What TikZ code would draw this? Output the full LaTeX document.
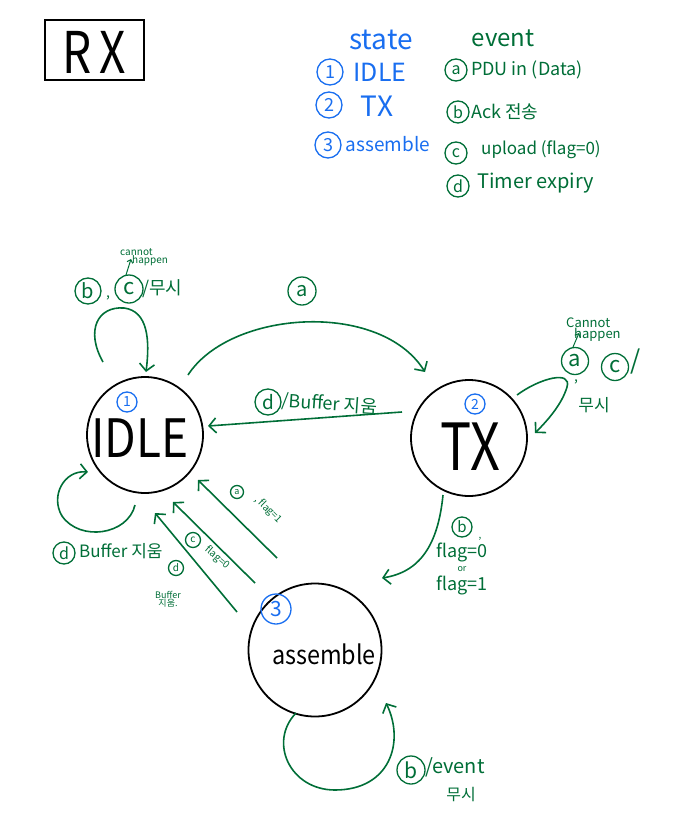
\documentclass[tikz,border=0pt]{standalone}
\usepackage{fontspec}
\setmainfont{Noto Sans CJK KR}
\usetikzlibrary{arrows.meta}
\definecolor{grn}{RGB}{0,110,55}
\definecolor{blu}{RGB}{25,110,240}
\newcommand{\fs}[1]{\fontsize{#1}{#1}\selectfont}
\tikzset{
  stc/.style={circle,draw=black,line width=1.8pt,minimum size=#1,inner sep=0pt},
  evc/.style={circle,draw=grn,text=grn,line width=1.3pt,inner sep=0pt,minimum size=#1},
  bnum/.style={circle,draw=blu,text=blu,line width=1.3pt,inner sep=0pt,minimum size=#1},
  gl/.style={text=grn,inner sep=0pt},
  bl/.style={text=blu,inner sep=0pt},
  conn/.style={draw=grn,line width=1.6pt,-{Straight Barb[length=7pt,width=15pt]}},
  thin conn/.style={draw=grn,line width=1pt,-{Straight Barb[length=3pt,width=6pt]}}
}
\begin{document}
\begin{tikzpicture}[x=1pt,y=-1pt]
\useasboundingbox (0,0) rectangle (673,830);
% title box
\node[draw=black,line width=1.2pt,minimum width=99pt,minimum height=60pt,inner sep=0pt] (rx) at (94.5,50) {};
\node[inner sep=0pt,yscale=1.25,font=\fs{46}] (rxt) at (94,52) {R\,X};
% legend: states
\node[bl,font=\fs{28}] (lstate) at (381,40) {state};
\node[bnum=26pt,font=\fs{18}] (l1) at (330,72) {1};
\node[bl,font=\fs{25}] (l1t) at (380,72) {IDLE};
\node[bnum=26pt,font=\fs{18}] (l2) at (329,105) {2};
\node[bl,font=\fs{28}] (l2t) at (377,106) {TX};
\node[bnum=26pt,font=\fs{18}] (l3) at (328,145) {3};
\node[bl,font=\fs{19}] (l3t) at (388,144) {assemble};
% legend: events
\node[gl,font=\fs{24}] (levent) at (503,38) {event};
\node[evc=22pt,font=\fs{16}] (la) at (456,70) {a};
\node[gl,font=\fs{18},anchor=west] (lat) at (471,70) {PDU in (Data)};
\node[evc=22pt,font=\fs{16}] (lb) at (458,112) {b};
\node[gl,font=\fs{18},anchor=west] (lbt) at (471,112) {Ack 전송};
\node[evc=22pt,font=\fs{16}] (lc) at (456,153) {c};
\node[gl,font=\fs{17},anchor=west] (lct) at (481,150) {upload (flag=0)};
\node[evc=22pt,font=\fs{16}] (ld) at (458,186) {d};
\node[gl,font=\fs{20},anchor=west] (ldt) at (477,183) {Timer\ expiry};
% states
\node[stc=116pt] (idle) at (145,435) {};
\node[inner sep=0pt,font=\fs{46},yscale=1.15] (idlet) at (140,438) {IDLE};
\node[bnum=20pt,font=\fs{14}] (n1) at (127,402) {1};
\node[stc=116pt] (tx) at (469,438) {};
\node[inner sep=0pt,font=\fs{52},yscale=1.25] (txt) at (470,447) {TX};
\node[bnum=20pt,font=\fs{14}] (n2) at (475,404) {2};
\node[stc=133pt] (asm) at (315,650) {};
\node[inner sep=0pt,font=\fs{26},xscale=0.9] (asmt) at (324,654) {assemble};
\node[bnum=30pt,font=\fs{21}] (n3) at (276,609) {3};
% IDLE -> TX (a)
\coordinate (p1) at (188,375);
\coordinate (p2) at (425,372);
\draw[conn] (p1) .. controls (230,310) and (380,300) .. (p2);
\node[evc=28pt,font=\fs{20}] (ea) at (302,291) {a};
% TX -> IDLE (d)
\coordinate (q1) at (402,412);
\coordinate (q2) at (208,426);
\draw[conn] (q1) -- (q2);
\node[evc=26pt,font=\fs{19}] (ed1) at (268,402) {d};
\node[gl,font=\fs{18},rotate=-4,anchor=west] (ed1t) at (282,401) {/Buffer 지움};
% IDLE top loop
\coordinate (r1) at (103,362);
\coordinate (r2) at (146,372);
\draw[conn] (r1) .. controls (85,330) and (98,306) .. (124,308) .. controls (148,311) and (150,340) .. (r2);
\node[evc=26pt,font=\fs{20}] (eb1) at (88,291) {b};
\node[gl,font=\fs{14}] (cm1) at (108,298) {,};
\node[evc=28pt,font=\fs{22}] (ec1) at (129,289) {c};
\node[gl,font=\fs{18},anchor=west] (ec1t) at (142,289) {/무시};
\node[gl,font=\fs{10},align=left,anchor=south west] (ch1) at (120,266) {cannot\\[-2pt]\hspace*{12pt}happen};
\coordinate (s1) at (126,275);
\coordinate (s2) at (131,259);
\draw[thin conn] (s1) -- (s2);
% TX right loop
\coordinate (t1) at (517,395);
\coordinate (t2) at (535,433);
\draw[conn] (t1) .. controls (540,378) and (572,370) .. (567,387) .. controls (562,404) and (548,420) .. (t2);
\node[evc=27pt,font=\fs{22}] (ea2) at (575,361) {a};
\node[gl,font=\fs{14}] (cm2) at (576,382) {,};
\node[evc=27pt,font=\fs{22}] (ec2) at (615,367) {c};
\node[gl,font=\fs{26}] (sl2) at (636,362) {/};
\node[gl,font=\fs{17}] (ms2) at (594,405) {무시};
\node[gl,font=\fs{13},align=left,anchor=south west] (ch2) at (566,342) {Cannot\\[-2pt]\hspace*{8pt}happen};
\coordinate (u1) at (573,347);
\coordinate (u2) at (579,333);
\draw[thin conn] (u1) -- (u2);
% IDLE bottom-left loop
\coordinate (v1) at (135,505);
\coordinate (v2) at (88,472);
\draw[conn] (v1) .. controls (128,535) and (80,542) .. (62,516) .. controls (50,496) and (64,470) .. (v2);
\node[evc=22pt,font=\fs{16}] (ed2) at (64,553) {d};
\node[gl,font=\fs{17},anchor=west] (ed2t) at (79,551) {Buffer 지움};
% TX -> assemble (b)
\coordinate (w1) at (443,495);
\coordinate (w2) at (382,578);
\draw[conn] (w1) .. controls (438,545) and (420,572) .. (w2);
\node[evc=20pt,font=\fs{15}] (eb3) at (462,527) {b};
\node[gl,font=\fs{10}] (cm3) at (480,539) {,};
\node[gl,font=\fs{18}] (f0) at (462,552) {flag=0};
\node[gl,font=\fs{9}] (or) at (462,569) {or};
\node[gl,font=\fs{18}] (f1) at (462,585) {flag=1};
% assemble -> IDLE three arrows
\coordinate (x1) at (277,558);
\coordinate (x2) at (198,480);
\draw[conn] (x1) -- (x2);
\coordinate (y1) at (255,583);
\coordinate (y2) at (173,502);
\draw[conn] (y1) -- (y2);
\coordinate (z1) at (237,612);
\coordinate (z2) at (155,513);
\draw[conn] (z1) -- (z2);
\node[evc=13pt,font=\fs{9}] (ea4) at (237,492) {a};
\node[gl,font=\fs{10},rotate=-45] (ea4t) at (268,510) {, flag=1};
\node[evc=15pt,font=\fs{10}] (ec4) at (193,540) {c};
\node[gl,font=\fs{10},rotate=-40] (ec4t) at (217,558) {flag=0};
\node[evc=15pt,font=\fs{10}] (ed4) at (176,568) {d};
\node[gl,font=\fs{9},align=center] (ed4t) at (168,599) {Buffer\\[-1pt]지움.};
% assemble bottom loop
\coordinate (aa1) at (296,713);
\coordinate (aa2) at (386,703);
\draw[conn] (aa1) .. controls (268,742) and (290,790) .. (335,790) .. controls (390,790) and (405,742) .. (aa2);
\node[evc=28pt,font=\fs{21}] (eb5) at (411,770) {b};
\node[gl,font=\fs{20},anchor=west] (eb5t) at (425,767) {/event};
\node[gl,font=\fs{16}] (ms5) at (461,795) {무시};
\end{tikzpicture}
\end{document}
